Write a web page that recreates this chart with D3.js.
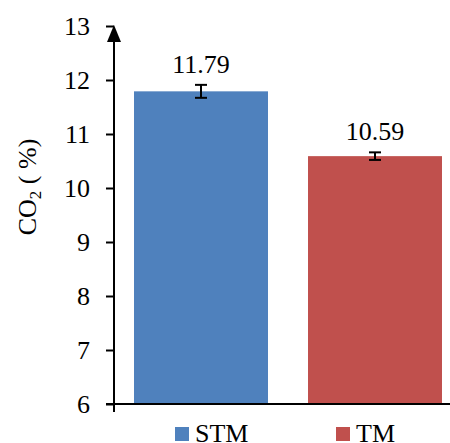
<!DOCTYPE html>
<html><head><meta charset="utf-8">
<script src="https://cdn.jsdelivr.net/npm/d3@7"></script>
<style>body{margin:0;background:#fff}svg{display:block}svg text{font-family:'Liberation Serif','Times New Roman',Times,serif !important;fill:#000}</style>
</head><body><svg id="c" width="450" height="443"></svg>
<script>
const categories = ["STM", "TM"];
const values = [11.79, 10.59];
const errors = [0.12, 0.07];
const colors = ["#4F81BD", "#C0504D"];
const yTicks = [6, 7, 8, 9, 10, 11, 12, 13];

const FS = 26;
const svg = d3.select("#c");
const x0 = 114, yBottom = 404, yTop = 26, xRight = 450;
const y = d3.scaleLinear().domain([6, 13]).range([yBottom, yTop]);
const x = d3.scaleBand().domain(categories).range([x0, 462]).paddingInner(0.23).paddingOuter(0.115);

// bars
svg.selectAll("rect.bar").data(categories).enter().append("rect")
  .attr("x", d => x(d)).attr("width", x.bandwidth())
  .attr("y", (d, i) => y(values[i])).attr("height", (d, i) => y(6) - y(values[i]))
  .attr("fill", (d, i) => colors[i]);

// error bars
categories.forEach((c, i) => {
  const cx = x(c) + x.bandwidth() / 2;
  const g = svg.append("g").attr("stroke", "#000").attr("stroke-width", 2);
  g.append("line").attr("x1", cx).attr("x2", cx).attr("y1", y(values[i] + errors[i])).attr("y2", y(values[i] - errors[i]));
  g.append("line").attr("x1", cx - 6).attr("x2", cx + 6).attr("y1", y(values[i] + errors[i])).attr("y2", y(values[i] + errors[i]));
  g.append("line").attr("x1", cx - 6).attr("x2", cx + 6).attr("y1", y(values[i] - errors[i])).attr("y2", y(values[i] - errors[i]));
  svg.append("text").attr("x", cx).attr("y", y(values[i] + errors[i]) - 12)
    .attr("text-anchor", "middle").attr("font-size", FS).text(values[i].toFixed(2));
});

// y axis
const yAxis = d3.axisLeft(y).tickValues(yTicks).tickSize(8).tickPadding(16).tickFormat(d3.format("d"));
const ga = svg.append("g").attr("transform", `translate(${x0},0)`).call(yAxis);
ga.attr("font-family", null).attr("font-size", FS);
ga.select(".domain").remove();
ga.selectAll(".tick line").attr("stroke", "#000").attr("stroke-width", 2);
ga.selectAll(".tick text").attr("font-size", FS).attr("fill", "#000");
svg.append("line").attr("x1", x0).attr("x2", x0).attr("y1", yBottom + 8).attr("y2", yTop + 4)
  .attr("stroke", "#000").attr("stroke-width", 2);
svg.append("path").attr("d", `M${x0},${yTop - 1} L${x0 - 7},${yTop + 16} L${x0 + 7},${yTop + 16} Z`).attr("fill", "#000");

// x axis
svg.append("line").attr("x1", 106).attr("x2", xRight).attr("y1", yBottom).attr("y2", yBottom)
  .attr("stroke", "#000").attr("stroke-width", 2);

// y title
const t = svg.append("text").attr("transform", `translate(36,187) rotate(-90)`)
  .attr("text-anchor", "middle").attr("font-size", FS);
t.append("tspan").text("CO");
t.append("tspan").attr("font-size", 17).attr("dy", 5).text("2");
t.append("tspan").attr("dy", -5).text(" ( %)");

// legend
const legendX = [175, 336];
categories.forEach((c, i) => {
  svg.append("rect").attr("x", legendX[i]).attr("y", 427).attr("width", 14).attr("height", 14).attr("fill", colors[i]);
  svg.append("text").attr("x", legendX[i] + 20).attr("y", 442).attr("font-size", FS).text(c);
});
</script></body></html>
